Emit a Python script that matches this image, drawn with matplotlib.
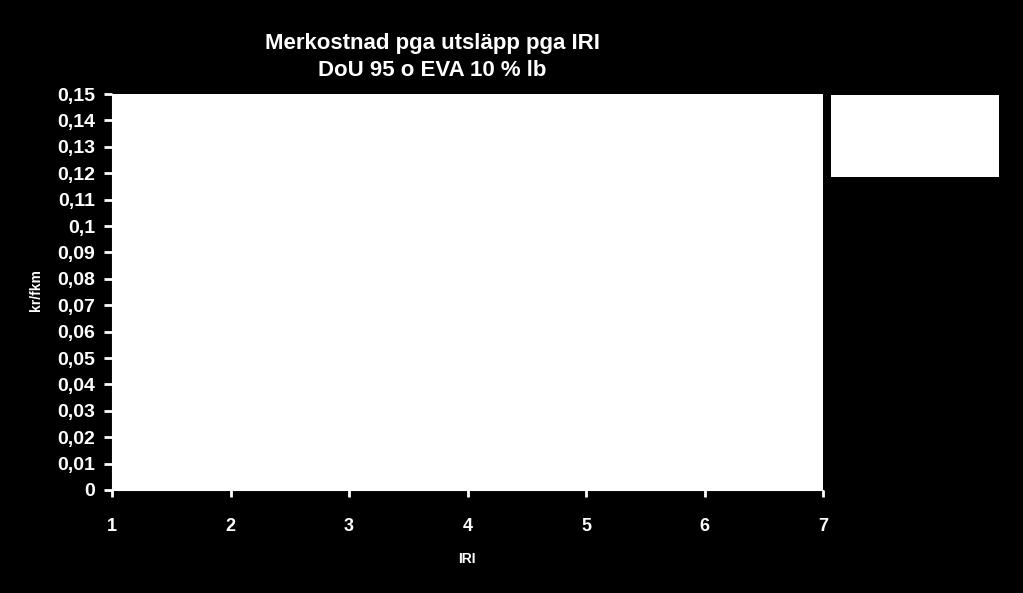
import matplotlib
matplotlib.use('Agg')
import matplotlib.pyplot as plt
from matplotlib.patches import Rectangle
from matplotlib.ticker import FuncFormatter

# Data (the series in the original is empty / not visible)
iri_ticks = [1, 2, 3, 4, 5, 6, 7]
cost_ticks = [0, 0.01, 0.02, 0.03, 0.04, 0.05, 0.06, 0.07, 0.08,
              0.09, 0.1, 0.11, 0.12, 0.13, 0.14, 0.15]
iri = []
cost = []

title_lines = ['Merkostnad pga utsläpp pga IRI', 'DoU 95 o EVA 10 % lb']

plt.rcParams['font.family'] = ['Liberation Sans', 'DejaVu Sans']
plt.rcParams['font.weight'] = 'bold'


def comma_fmt(v, pos):
    s = ('%.2f' % v).rstrip('0').rstrip('.')
    return s.replace('.', ',')


def main():
    fig = plt.figure(figsize=(10.23, 5.93), dpi=100, facecolor='black')
    ax = fig.add_axes([112 / 1023, 1 - 490 / 593, 711 / 1023, 396 / 593])
    ax.set_facecolor('white')
    ax.plot(iri, cost, color='white')

    ax.set_xlim(1, 7)
    ax.set_ylim(0, 0.15)
    ax.set_xticks(iri_ticks)
    ax.set_yticks(cost_ticks)
    ax.yaxis.set_major_formatter(FuncFormatter(comma_fmt))

    for s in ax.spines.values():
        s.set_visible(False)
    ax.spines['bottom'].set_visible(True)
    ax.spines['bottom'].set_color('white')
    ax.spines['left'].set_visible(True)
    ax.spines['left'].set_color('white')

    ax.tick_params(axis='x', colors='white', direction='out', length=5,
                   width=2, pad=15, labelsize=13)
    ax.tick_params(axis='y', colors='white', direction='out', length=6,
                   width=2, pad=6, labelsize=14)
    for lab in ax.get_xticklabels() + ax.get_yticklabels():
        lab.set_fontweight('bold')

    fig.text(36 / 1023, 1 - 290 / 593, 'kr/fkm', color='white', fontsize=10,
             fontweight='bold', rotation=90, ha='center', va='center')
    fig.text(467 / 1023, 1 - 559 / 593, 'IRI', color='white', fontsize=10,
             fontweight='bold', ha='center', va='center')

    fig.text(432 / 1023, 1 - 43 / 593, title_lines[0], color='white',
             fontsize=16, fontweight='bold', ha='center', va='center')
    fig.text(432 / 1023, 1 - 71 / 593, title_lines[1], color='white',
             fontsize=16, fontweight='bold', ha='center', va='center')

    # empty legend box
    fig.patches.append(Rectangle((831 / 1023, 1 - 177 / 593), 168 / 1023,
                                 82 / 593, transform=fig.transFigure,
                                 facecolor='white', edgecolor='none'))

    fig.savefig('out.png', dpi=100, facecolor='black')


if __name__ == "__main__":
    main()
